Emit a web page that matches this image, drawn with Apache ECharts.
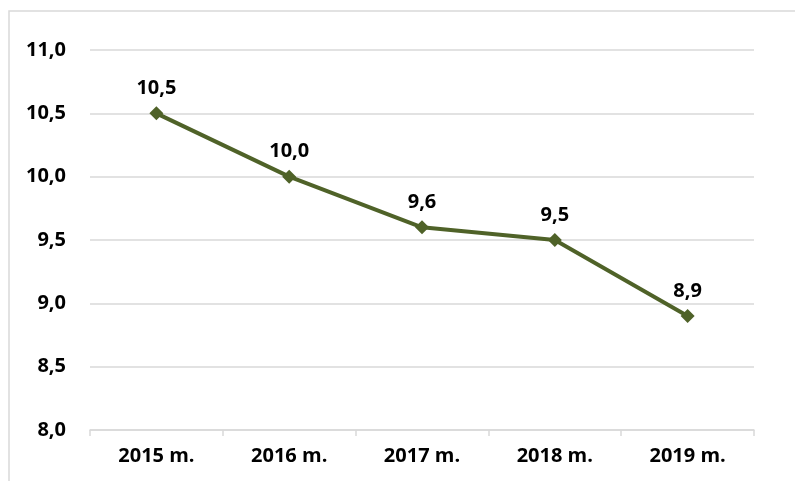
<!DOCTYPE html>
<html lang="lt">
<head>
    <meta charset="utf-8">
    <title></title>
    <style>
        html, body { margin: 0; padding: 0; background: #fff; }
        #chart { width: 795px; height: 481px; }
    </style>
</head>
<body>
<div id="chart"></div>
<script src="https://cdn.jsdelivr.net/npm/echarts@6/dist/echarts.min.js"></script>
<script type="text/javascript">
    // data
    var years = ['2015 m.', '2016 m.', '2017 m.', '2018 m.', '2019 m.'];
    var values = [10.5, 10.0, 9.6, 9.5, 8.9];
    var yTicks = [8.0, 8.5, 9.0, 9.5, 10.0, 10.5, 11.0];

    var font = '"Open Sans", "Noto Sans", sans-serif';

    function comma(v) {
        return Number(v).toFixed(1).replace('.', ',');
    }

    var myChart = echarts.init(document.getElementById('chart'));
    myChart.setOption({
        animation: false,
        textStyle: { fontFamily: font },
        graphic: [{
            type: 'rect',
            shape: { x: 9, y: 11, width: 900, height: 600 },
            style: { fill: 'none', stroke: '#d9d9d9', lineWidth: 1.5 },
            silent: true
        }],
        grid: { left: 90, right: 41, top: 50, bottom: 51 },
        xAxis: {
            type: 'category',
            data: years,
            boundaryGap: true,
            axisLine: { lineStyle: { color: '#d9d9d9', width: 1.5 } },
            axisTick: { show: true, length: 6, lineStyle: { color: '#d9d9d9', width: 1.5 } },
            axisLabel: { color: '#000', fontSize: 20, fontWeight: 'bold', fontFamily: font, margin: 16 },
            splitLine: { show: false }
        },
        yAxis: {
            type: 'value',
            min: yTicks[0],
            max: yTicks[yTicks.length - 1],
            interval: 0.5,
            axisLine: { show: false },
            axisTick: { show: false },
            axisLabel: {
                color: '#000', fontSize: 20, fontWeight: 'bold', fontFamily: font, margin: 24,
                formatter: comma
            },
            splitLine: { lineStyle: { color: '#d9d9d9', width: 1.5 } }
        },
        series: [{
            type: 'line',
            data: values,
            symbol: 'diamond',
            symbolSize: 14,
            itemStyle: { color: '#4f6228' },
            lineStyle: { color: '#4f6228', width: 4 },
            label: {
                show: true,
                position: 'top',
                distance: 8,
                color: '#000',
                fontSize: 20,
                fontWeight: 'bold',
                fontFamily: font,
                formatter: function (p) { return comma(p.value); }
            }
        }]
    });
</script>
</body>
</html>
